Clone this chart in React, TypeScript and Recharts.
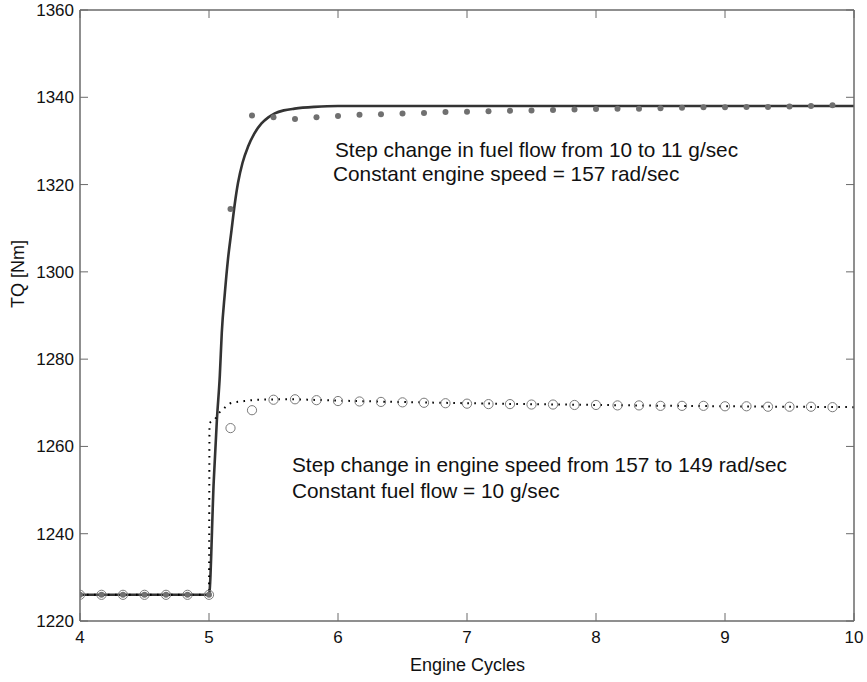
import React from 'react';
import { ComposedChart, Line, Scatter, XAxis, YAxis } from 'recharts';

// sampled outputs, one marker every 1/6 engine cycle
const sampleX = [
  4, 4.1667, 4.3333, 4.5, 4.6667, 4.8333, 5, 5.1667, 5.3333, 5.5, 5.6667, 5.8333,
  6, 6.1667, 6.3333, 6.5, 6.6667, 6.8333, 7, 7.1667, 7.3333, 7.5, 7.6667, 7.8333,
  8, 8.1667, 8.3333, 8.5, 8.6667, 8.8333, 9, 9.1667, 9.3333, 9.5, 9.6667, 9.8333,
];
const fuelSampled = [
  1226, 1226, 1226, 1226, 1226, 1226, 1226, 1314.4, 1335.8, 1335.4, 1335.0, 1335.4,
  1335.7, 1336.0, 1336.1, 1336.3, 1336.4, 1336.6, 1336.7, 1336.8, 1336.9, 1337.0, 1337.1, 1337.2,
  1337.3, 1337.4, 1337.4, 1337.5, 1337.6, 1337.7, 1337.7, 1337.8, 1337.8, 1337.9, 1338.0, 1338.2,
];
const speedSampled = [
  1226, 1226, 1226, 1226, 1226, 1226, 1226, 1264.2, 1268.3, 1270.7, 1270.8, 1270.6,
  1270.4, 1270.3, 1270.2, 1270.1, 1270.0, 1269.9, 1269.8, 1269.7, 1269.7, 1269.6, 1269.6, 1269.5,
  1269.5, 1269.4, 1269.4, 1269.3, 1269.3, 1269.3, 1269.2, 1269.2, 1269.1, 1269.1, 1269.1, 1269.0,
];

// continuous model responses
const fuelLineX = [4, 5, 5.037, 5.061, 5.084, 5.099, 5.123, 5.146, 5.174, 5.2, 5.225, 5.26, 5.303, 5.35, 5.407, 5.46, 5.51, 5.58, 5.664, 5.819, 6, 7, 8, 9, 10];
const fuelLineY = [1226, 1226, 1252.2, 1266, 1276.3, 1286, 1295.2, 1302.6, 1309.4, 1315.6, 1320.4, 1325.0, 1328.7, 1331.6, 1334.0, 1335.4, 1336.3, 1337.0, 1337.4, 1337.8, 1338, 1338, 1338, 1338, 1338];
const speedLineX = [4, 5, 5.004, 5.045, 5.076, 5.115, 5.16, 5.2, 5.25, 5.38, 5.6, 6, 7, 8, 9, 10];
const speedLineY = [1226, 1226, 1265.3, 1266.2, 1267.6, 1268.7, 1269.8, 1270.1, 1270.3, 1270.7, 1270.8, 1270.5, 1269.9, 1269.5, 1269.2, 1269.0];

const xTicks = [4, 5, 6, 7, 8, 9, 10];
const yTicks = [1220, 1240, 1260, 1280, 1300, 1320, 1340, 1360];

const zip = (xs: number[], ys: number[]) => xs.map((x, i) => ({ x, y: ys[i] }));
const fuelDots = zip(sampleX, fuelSampled);
const speedDots = zip(sampleX, speedSampled);
const fuelLine = zip(fuelLineX, fuelLineY);
const speedLine = zip(speedLineX, speedLineY);

const FONT = '"Liberation Sans", Arial, Helvetica, sans-serif';
const AXIS = '#6a6a6a';

const BottomTick = (props: any) => {
  const { x, y, payload } = props;
  return (
    <g>
      <line x1={x} y1={y} x2={x} y2={y - 8} stroke={AXIS} strokeWidth={1} />
      <text x={x} y={y + 22} textAnchor="middle" fontSize={17} fontFamily={FONT} fill="#111">
        {payload.value}
      </text>
    </g>
  );
};

const LeftTick = (props: any) => {
  const { x, y, payload } = props;
  return (
    <g>
      <line x1={x} y1={y} x2={x + 8} y2={y} stroke={AXIS} strokeWidth={1} />
      <text x={x - 6} y={y + 6} textAnchor="end" fontSize={17} fontFamily={FONT} fill="#111">
        {payload.value}
      </text>
    </g>
  );
};

const TopTick = (props: any) => (
  <line x1={props.x} y1={props.y} x2={props.x} y2={props.y + 8} stroke={AXIS} strokeWidth={1} />
);

const RightTick = (props: any) => (
  <line x1={props.x} y1={props.y} x2={props.x - 8} y2={props.y} stroke={AXIS} strokeWidth={1} />
);

const FilledDot = (props: any) => <circle cx={props.cx} cy={props.cy} r={3} fill="#707070" />;
const OpenDot = (props: any) => (
  <circle cx={props.cx} cy={props.cy} r={4.6} fill="none" stroke="#7a7a7a" strokeWidth={1} />
);

export default function App() {
  return (
    <div style={{ position: 'absolute', left: 0, top: 0, width: 867, height: 682, background: '#fff' }}>
      <ComposedChart width={867} height={682} margin={{ top: 9, right: 12, bottom: 0, left: 0 }}>
        <XAxis
          xAxisId="b"
          type="number"
          dataKey="x"
          domain={[4, 10]}
          ticks={xTicks}
          allowDataOverflow
          height={61}
          tickSize={0}
          tickMargin={0}
          tickLine={false}
          axisLine={{ stroke: AXIS, strokeWidth: 1.5 }}
          tick={<BottomTick />}
        />
        <XAxis
          xAxisId="t"
          orientation="top"
          type="number"
          dataKey="x"
          domain={[4, 10]}
          ticks={xTicks}
          allowDataOverflow
          height={1}
          tickSize={0}
          tickMargin={0}
          tickLine={false}
          interval={0}
          axisLine={{ stroke: AXIS, strokeWidth: 1.5 }}
          tick={<TopTick />}
        />
        <YAxis
          yAxisId="l"
          type="number"
          domain={[1220, 1360]}
          ticks={yTicks}
          allowDataOverflow
          width={80}
          tickSize={0}
          tickMargin={0}
          tickLine={false}
          axisLine={{ stroke: AXIS, strokeWidth: 1.5 }}
          tick={<LeftTick />}
        />
        <YAxis
          yAxisId="r"
          orientation="right"
          type="number"
          domain={[1220, 1360]}
          ticks={yTicks}
          allowDataOverflow
          width={1}
          tickSize={0}
          tickMargin={0}
          tickLine={false}
          interval={0}
          axisLine={{ stroke: AXIS, strokeWidth: 1.5 }}
          tick={<RightTick />}
        />
        {/* invisible series so the mirrored frame axes get their ticks */}
        <Line
          xAxisId="t"
          yAxisId="r"
          data={fuelLine}
          dataKey="y"
          stroke="none"
          dot={false}
          activeDot={false}
          isAnimationActive={false}
        />
        <Line
          xAxisId="b"
          yAxisId="l"
          data={fuelLine}
          dataKey="y"
          type="monotone"
          stroke="#333"
          strokeWidth={2.6}
          dot={false}
          activeDot={false}
          isAnimationActive={false}
        />
        <Line
          xAxisId="b"
          yAxisId="l"
          data={speedLine}
          dataKey="y"
          type="monotone"
          stroke="#000"
          strokeWidth={2}
          strokeDasharray="1.6 5.4"
          dot={false}
          activeDot={false}
          isAnimationActive={false}
        />
        <Scatter xAxisId="b" yAxisId="l" data={speedDots} dataKey="y" shape={<OpenDot />} isAnimationActive={false} />
        <Scatter xAxisId="b" yAxisId="l" data={fuelDots} dataKey="y" shape={<FilledDot />} isAnimationActive={false} />
      </ComposedChart>
      <svg
        width={867}
        height={682}
        style={{ position: 'absolute', left: 0, top: 0, pointerEvents: 'none' }}
        fontFamily={FONT}
        fill="#111"
      >
        <text x={335} y={157} fontSize={20.8}>Step change in fuel flow from 10 to 11 g/sec</text>
        <text x={333} y={181} fontSize={20.8}>Constant engine speed = 157 rad/sec</text>
        <text x={292} y={472} fontSize={20.8}>Step change in engine speed from 157 to 149 rad/sec</text>
        <text x={292} y={498} fontSize={20.8}>Constant fuel flow = 10 g/sec</text>
        <text x={467.5} y={671} fontSize={18} textAnchor="middle">Engine Cycles</text>
        <text x={24} y={274} fontSize={18} textAnchor="middle" transform="rotate(-90 24 274)">TQ [Nm]</text>
      </svg>
    </div>
  );
}
